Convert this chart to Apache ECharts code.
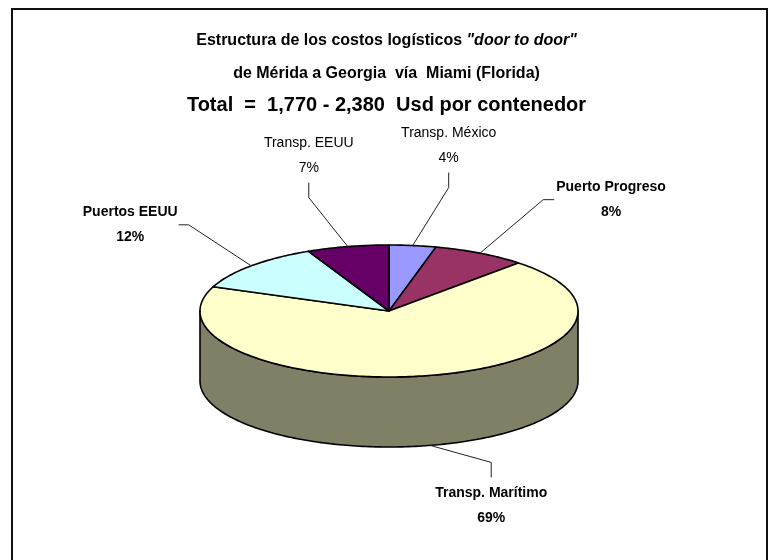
<!DOCTYPE html>
<html>
<head>
<meta charset="utf-8">
<script src="https://cdn.jsdelivr.net/npm/echarts@6/dist/echarts.min.js"></script>
<style>
  html, body { margin: 0; padding: 0; background: #ffffff; }
  #chart { width: 773px; height: 560px; }
</style>
</head>
<body>
<div id="chart"></div>
<script>
// Cost structure, door to door, Mérida -> Georgia via Miami
const categories = ['Transp. México', 'Puerto Progreso', 'Transp. Marítimo', 'Puertos EEUU', 'Transp. EEUU'];
const shares = [4, 8, 69, 12, 7];
const sliceColors = ['#9999FF', '#993366', '#FFFFCC', '#CCFFFF', '#660066'];
const titleLine1 = 'Estructura de los costos logísticos ';
const titleLine1Italic = '"door to door"';
const titleLine2 = 'de Mérida a Georgia  vía  Miami (Florida)';
const titleLine3 = 'Total  =  1,770 - 2,380  Usd por contenedor';

const FONT = '"Liberation Sans", Arial, Helvetica, sans-serif';
const NARROW = '"Liberation Sans Narrow", "Arial Narrow"';

// 3D pie geometry (top face ellipse + wall depth), in pixels
const pie = { cx: 389, cy: 311, rx: 189, ry: 66, depth: 70 };

// label placement relative to the slice anchor, and the side the leader attaches to
const labelPlacement = [
  { dx: 36, dy: -100, attach: 'bottom', bold: false },
  { dx: 131, dy: -53.5, attach: 'left', bold: true },
  { dx: 61, dy: 60, attach: 'top', bold: true },
  { dx: -121, dy: -41, attach: 'right', bold: true },
  { dx: -39, dy: -91, attach: 'bottom', bold: false }
];
const LABEL_SIZE = 14;
const LABEL_LINE = 25;

const total = shares.reduce((s, v) => s + v, 0);
const starts = [];
shares.reduce((acc, v, i) => { starts[i] = acc; return acc + v; }, 0);

const measureCtx = document.createElement('canvas').getContext('2d');
function textWidth(str, bold) {
  measureCtx.font = (bold ? 'bold ' : '') + LABEL_SIZE + 'px ' + FONT;
  return Math.max.apply(null, str.split('\n').map(s => measureCtx.measureText(s).width));
}

// use a condensed face for the heading when one is installed
function hasFont(family) {
  const probe = 'Transp. Marítimo 1,770 - 2,380';
  measureCtx.font = '20px monospace';
  const base = measureCtx.measureText(probe).width;
  measureCtx.font = '20px ' + family + ', monospace';
  return Math.abs(measureCtx.measureText(probe).width - base) > 0.5;
}
const narrowOk = hasFont(NARROW);
const headFont = narrowOk ? NARROW + ', ' + FONT : FONT;
const headSizes = narrowOk ? [19, 19.5, 24] : [16, 16, 20];

function darken(hex, k) {
  const c = hex.replace('#', '');
  const ch = [0, 2, 4].map(i => Math.round(parseInt(c.substr(i, 2), 16) * k));
  return 'rgb(' + ch.join(',') + ')';
}

// angle measured clockwise from 12 o'clock on the ellipse
function pt(theta, dy) {
  return [pie.cx + pie.rx * Math.sin(theta), pie.cy - pie.ry * Math.cos(theta) + (dy || 0)];
}
function arc(a, b, dy) {
  const n = Math.max(2, Math.ceil(Math.abs(b - a) / (Math.PI / 180)));
  const out = [];
  for (let i = 0; i <= n; i++) out.push(pt(a + (b - a) * i / n, dy));
  return out;
}

function renderSlice(params, api) {
  const i = params.dataIndex;
  const value = api.value(0);
  const start = api.value(1);
  const color = api.visual('color');
  const a0 = start / total * Math.PI * 2;
  const a1 = (start + value) / total * Math.PI * 2;
  const mid = (a0 + a1) / 2;
  const children = [];

  // outer wall, only the part facing the viewer
  const lo = Math.max(a0, Math.PI / 2);
  const hi = Math.min(a1, Math.PI * 1.5);
  if (hi > lo) {
    children.push({
      type: 'polygon',
      shape: { points: arc(lo, hi, 0).concat(arc(hi, lo, pie.depth)) },
      style: { fill: darken(color, 0.5), stroke: '#000', lineWidth: 1.6, lineJoin: 'round' }
    });
  }

  // top face
  children.push({
    type: 'polygon',
    shape: { points: [[pie.cx, pie.cy]].concat(arc(a0, a1, 0)) },
    style: { fill: color, stroke: '#000', lineWidth: 1.6, lineJoin: 'round' }
  });

  // label and leader line
  const front = Math.cos(mid) < 0;
  const anchor = pt(mid, front ? pie.depth : 0);
  const lp = labelPlacement[i];
  const text = categories[i] + '\n' + Math.round(value / total * 100) + '%';
  const lx = anchor[0] + lp.dx;
  const ly = anchor[1] + lp.dy;
  const w = textWidth(text, lp.bold);
  const h = LABEL_LINE * 2;
  let end, elbow;
  if (lp.attach === 'bottom') { end = [lx, ly + h / 2 + 2]; elbow = [lx, end[1] + 15]; }
  else if (lp.attach === 'top') { end = [lx, ly - h / 2 - 3]; elbow = [lx, end[1] - 15]; }
  else if (lp.attach === 'left') { end = [lx - w / 2 - 2, ly]; elbow = [end[0] - 11, ly]; }
  else { end = [lx + w / 2 + 1, ly]; elbow = [end[0] + 10, ly]; }
  children.push({
    type: 'polyline',
    shape: { points: [end, elbow, anchor] },
    style: { stroke: '#222', lineWidth: 1, fill: 'none' }
  });
  children.push({
    type: 'text',
    x: lx, y: ly,
    style: {
      text: text, fill: '#000', fontFamily: FONT, fontSize: LABEL_SIZE,
      fontWeight: lp.bold ? 'bold' : 'normal', lineHeight: LABEL_LINE,
      align: 'center', verticalAlign: 'middle'
    }
  });
  return { type: 'group', children: children };
}

const chart = echarts.init(document.getElementById('chart'), null, { renderer: 'canvas' });
chart.setOption({
  animation: false,
  backgroundColor: '#ffffff',
  title: [
    {
      text: '{n|' + titleLine1 + '}{i|' + titleLine1Italic + '}',
      left: 'center', top: 31, padding: 0,
      textStyle: {
        rich: {
          n: { fontFamily: headFont, fontSize: headSizes[0], fontWeight: 'bold', color: '#000', lineHeight: 20 },
          i: { fontFamily: headFont, fontSize: headSizes[0], fontWeight: 'bold', fontStyle: 'italic', color: '#000', lineHeight: 20 }
        }
      }
    },
    {
      text: titleLine2, left: 'center', top: 64, padding: 0,
      textStyle: { fontFamily: headFont, fontSize: headSizes[1], fontWeight: 'bold', color: '#000', lineHeight: 20 }
    },
    {
      text: titleLine3, left: 'center', top: 93, padding: 0,
      textStyle: { fontFamily: headFont, fontSize: headSizes[2], fontWeight: 'bold', color: '#000', lineHeight: 24 }
    }
  ],
  graphic: [{
    type: 'rect', z: -1,
    shape: { x: 12, y: 9, width: 755, height: 560 },
    style: { fill: 'none', stroke: '#111', lineWidth: 2 }
  }],
  series: [{
    type: 'custom',
    coordinateSystem: 'none',
    renderItem: renderSlice,
    data: shares.map((v, i) => ({
      name: categories[i],
      value: [v, starts[i]],
      itemStyle: { color: sliceColors[i] }
    }))
  }]
});
</script>
</body>
</html>
